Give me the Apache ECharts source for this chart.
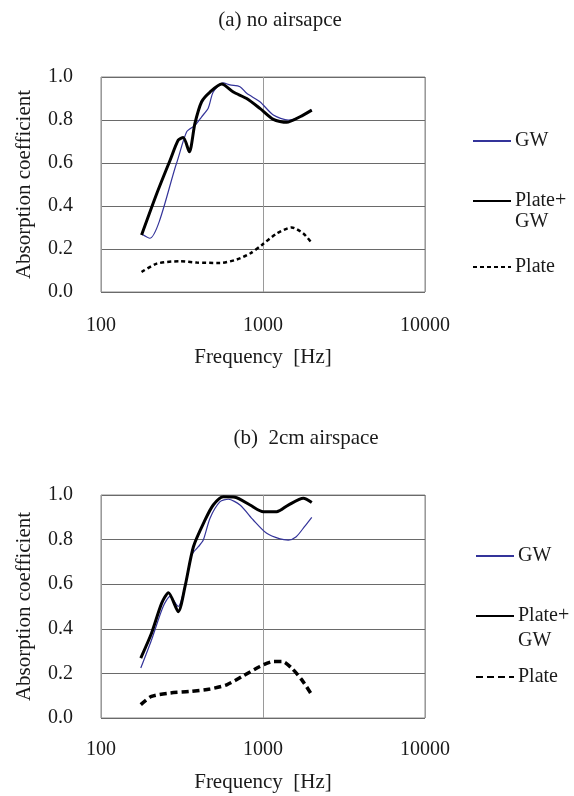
<!DOCTYPE html>
<html>
<head>
<meta charset="utf-8">
<script src="https://cdn.jsdelivr.net/npm/echarts@6/dist/echarts.min.js"></script>
<style>html,body{margin:0;padding:0;background:#fff}#c{width:574px;height:796px}</style>
</head>
<body>
<div id="c"></div>
<script>
// ---- data (a) no airspace ----
const aGwF   = [178, 200, 293, 338, 380, 418, 459, 493, 568, 625, 721, 793, 957, 1158, 1433, 1692, 2000];
const aGwV   = [0.27, 0.25, 0.60, 0.745, 0.775, 0.815, 0.855, 0.93, 0.973, 0.963, 0.955, 0.924, 0.885, 0.823, 0.80, 0.815, 0.846];
const aPgF   = [178, 221, 267, 300, 322, 351, 380, 418, 471, 556, 656, 793, 957, 1158, 1400, 1692, 2000];
const aPgV   = [0.265, 0.458, 0.613, 0.707, 0.719, 0.652, 0.784, 0.885, 0.93, 0.967, 0.93, 0.90, 0.854, 0.803, 0.789, 0.815, 0.846];
const aPlF   = [178, 221, 308, 390, 543, 689, 832, 982, 1214, 1502, 1774, 2000];
const aPlV   = [0.093, 0.132, 0.143, 0.137, 0.135, 0.151, 0.179, 0.218, 0.272, 0.30, 0.272, 0.228];
// ---- data (b) 2cm airspace ----
const bGwF   = [176, 205, 242, 267, 300, 322, 363, 399, 428, 471, 543, 611, 721, 871, 1054, 1274, 1433, 1604, 1803, 2000];
const bGwV   = [0.224, 0.35, 0.50, 0.545, 0.50, 0.56, 0.731, 0.768, 0.798, 0.896, 0.97, 0.981, 0.955, 0.888, 0.828, 0.803, 0.798, 0.813, 0.858, 0.90];
const bPgF   = [176, 205, 237, 261, 300, 330, 372, 439, 493, 568, 672, 832, 1005, 1214, 1433, 1774, 2000];
const bPgV   = [0.269, 0.38, 0.515, 0.562, 0.477, 0.589, 0.768, 0.888, 0.955, 0.992, 0.99, 0.955, 0.925, 0.925, 0.955, 0.985, 0.966];
const bPlF   = [176, 205, 267, 354, 471, 597, 755, 957, 1158, 1321, 1502, 1733, 2000];
const bPlV   = [0.06, 0.097, 0.112, 0.119, 0.13, 0.149, 0.189, 0.231, 0.253, 0.253, 0.224, 0.172, 0.104];
// ---- labels ----
const titles = ['(a) no airsapce', '(b)  2cm airspace'];
const xTicks = [100, 1000, 10000];
const yTicks = [0, 0.2, 0.4, 0.6, 0.8, 1.0];
const legendNames = {GW: 'GW', PG: ' \nPlate+\nGW', PL: 'Plate'};

const pair = (f, v) => f.map((x, i) => [x, v[i]]);
const FONT = '"Liberation Serif", "Times New Roman", serif';
const TXT = '#1a1a1a';
const grids = [
  {left: 101, top: 77, width: 324, height: 215},
  {left: 101, top: 495, width: 324, height: 223}
];

function xAxis(i) {
  return {
    type: 'log', logBase: 10, min: 100, max: 10000, gridIndex: i,
    name: 'Frequency  [Hz]', nameLocation: 'middle', nameGap: i === 0 ? 55 : 54,
    nameTextStyle: {fontFamily: FONT, fontSize: 21, color: TXT},
    axisLine: {show: false}, axisTick: {show: false},
    axisLabel: {fontFamily: FONT, fontSize: 20, color: TXT, margin: i === 0 ? 24 : 22,
      formatter: v => xTicks.includes(Math.round(v)) ? String(Math.round(v)) : ''},
    splitLine: {show: true, lineStyle: {color: '#9a9a9a', width: 1}},
    minorSplitLine: {show: false}
  };
}
function yAxis(i) {
  return {
    type: 'value', min: 0, max: 1, interval: 0.2, gridIndex: i,
    name: 'Absorption coefficient', nameLocation: 'middle', nameGap: 66,
    nameTextStyle: {fontFamily: FONT, fontSize: 21, color: TXT},
    axisLine: {show: false}, axisTick: {show: false},
    axisLabel: {fontFamily: FONT, fontSize: 20, color: TXT, margin: 28, padding: [9, 0, 0, 0],
      formatter: v => yTicks.some(t => Math.abs(t - v) < 1e-9) ? v.toFixed(1) : ''},
    splitLine: {show: true, lineStyle: {color: '#6a6a6a', width: 1}}
  };
}
const gwStyle = {color: '#34349a', width: 1.2};
const pgStyle = {color: '#000', width: 3};
const plStyleA = {color: '#000', width: 2.5, type: [4, 3]};
const plStyleB = {color: '#000', width: 3.5, type: [7, 4]};

function ser(name, data, ls, gi) {
  return {type: 'line', name: name, xAxisIndex: gi, yAxisIndex: gi, data: data,
    showSymbol: false, symbol: 'none', smooth: 0.25, lineStyle: ls, itemStyle: {color: ls.color},
    animation: false, z: ls.color === '#000' ? 3 : 2};
}

function leg(name, left, top, lh) {
  return {show: true, orient: 'vertical', left: left, top: top, data: [name],
    itemWidth: 38, itemHeight: 14, itemGap: 0, selectedMode: false,
    itemStyle: {opacity: 0, borderWidth: 0},
    formatter: n => legendNames[n.split(':')[1]],
    textStyle: {fontFamily: FONT, fontSize: 20, color: TXT, lineHeight: lh, padding: [0, 0, 0, -1]}};
}

const option = {
  backgroundColor: '#fff',
  animation: false,
  title: [
    {text: titles[0], left: 275, textAlign: 'center', top: 5, textStyle: {fontFamily: FONT, fontSize: 21, fontWeight: 'normal', color: TXT}},
    {text: titles[1], left: 301, textAlign: 'center', top: 423, textStyle: {fontFamily: FONT, fontSize: 21, fontWeight: 'normal', color: TXT}}
  ],
  grid: grids.map(g => Object.assign({show: true, borderColor: '#8a8a8a', borderWidth: 1, backgroundColor: 'transparent'}, g)),
  xAxis: [xAxis(0), xAxis(1)],
  yAxis: [yAxis(0), yAxis(1)],
  legend: [
    leg('a:GW', 467, 125, 22), leg('a:PG', 467, 164.5, 21), leg('a:PL', 467, 251, 22),
    leg('b:GW', 470, 540, 22), leg('b:PG', 470, 573.5, 25), leg('b:PL', 470, 661, 22)
  ],
  series: [
    ser('a:GW', pair(aGwF, aGwV), gwStyle, 0),
    ser('a:PG', pair(aPgF, aPgV), pgStyle, 0),
    ser('a:PL', pair(aPlF, aPlV), plStyleA, 0),
    ser('b:GW', pair(bGwF, bGwV), gwStyle, 1),
    ser('b:PG', pair(bPgF, bPgV), pgStyle, 1),
    ser('b:PL', pair(bPlF, bPlV), plStyleB, 1)
  ]
};
const chart = echarts.init(document.getElementById('c'), null, {renderer: 'canvas'});
chart.setOption(option);
</script>
</body>
</html>
